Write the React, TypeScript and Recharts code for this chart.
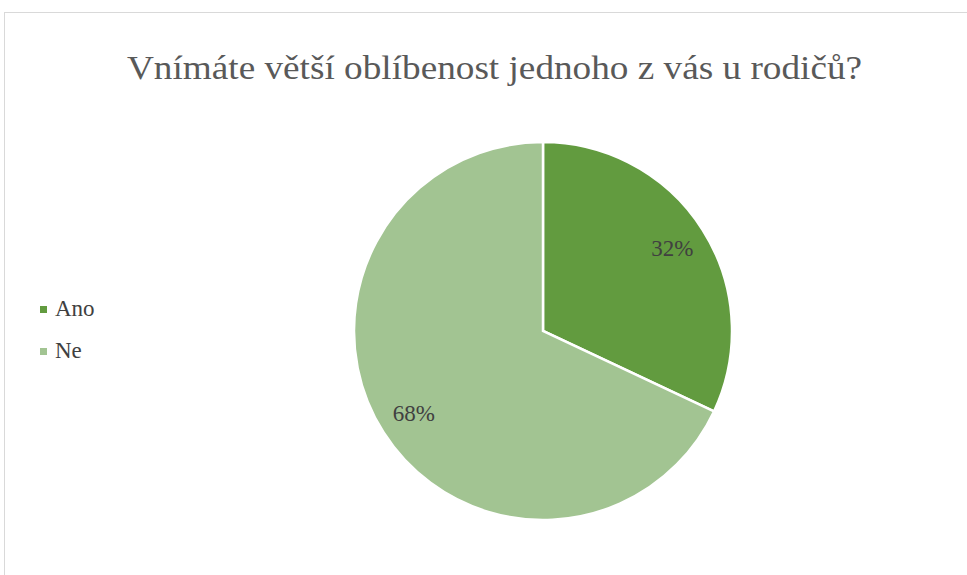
import React from "react";
import { PieChart, Pie, Cell, Legend } from "recharts";

const categories = ["Ano", "Ne"];
const values = [32, 68];
const colors = ["#629B3F", "#A2C492"];
const title = "Vnímáte větší oblíbenost jednoho z vás u rodičů?";

const data = categories.map((name, i) => ({ name, value: values[i] }));

const RAD = Math.PI / 180;
const FONT = "'Times New Roman', 'Liberation Serif', serif";

const renderLabel = (props: any) => {
  const { cx, cy, midAngle, outerRadius, value } = props;
  const r = outerRadius * 0.81;
  const x = cx + r * Math.cos(-midAngle * RAD);
  const y = cy + r * Math.sin(-midAngle * RAD);
  return (
    <text
      x={x}
      y={y}
      fill="#404040"
      fontSize={23}
      fontFamily={FONT}
      textAnchor="middle"
      dominantBaseline="central"
    >
      {`${value}%`}
    </text>
  );
};

const renderLegend = () => (
  <div style={{ fontFamily: FONT, fontSize: 23, color: "#404040" }}>
    {data.map((d, i) => (
      <div key={d.name} style={{ display: "flex", alignItems: "center", height: 42 }}>
        <span style={{ display: "inline-block", width: 7, height: 7, background: colors[i], marginRight: 8 }} />
        <span>{d.name}</span>
      </div>
    ))}
  </div>
);

export default function App() {
  return (
    <div style={{ position: "absolute", left: 0, top: 0, width: 967, height: 575, background: "#fff", overflow: "hidden" }}>
      <div style={{ position: "absolute", left: 4, top: 12, width: 1000, height: 600, border: "1px solid #d9d9d9", boxSizing: "border-box" }} />
      <div
        style={{
          position: "absolute",
          left: 0,
          top: 49,
          width: 989,
          textAlign: "center",
          fontFamily: FONT,
          fontSize: 34,
          lineHeight: "normal",
          color: "#595959",
          whiteSpace: "nowrap",
          transform: "scaleX(1.095)",
          transformOrigin: "494px 0",
        }}
      >
        {title}
      </div>
      <div style={{ position: "absolute", left: 0, top: 0 }}>
        <PieChart width={967} height={575} margin={{ top: 0, right: 0, bottom: 0, left: 0 }}>
          <Pie
            data={data}
            dataKey="value"
            nameKey="name"
            cx={543}
            cy={331}
            outerRadius={189}
            startAngle={90}
            endAngle={-270}
            stroke="#ffffff"
            strokeWidth={2.5}
            label={renderLabel}
            labelLine={false}
            isAnimationActive={false}
          >
            {data.map((d, i) => (
              <Cell key={d.name} fill={colors[i]} />
            ))}
          </Pie>
          <Legend content={renderLegend} wrapperStyle={{ position: "absolute", left: 40, top: 288, width: 100 }} />
        </PieChart>
      </div>
    </div>
  );
}
